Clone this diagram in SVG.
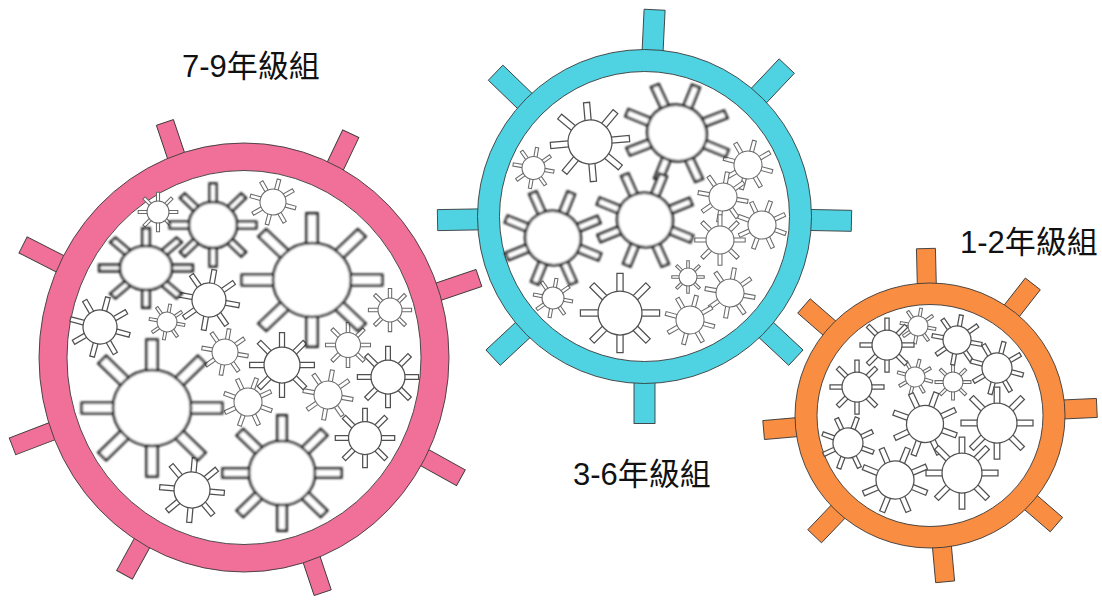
<svg xmlns="http://www.w3.org/2000/svg" xmlns:xlink="http://www.w3.org/1999/xlink" width="1102" height="603" viewBox="0 0 1102 603">
  <style>
    .lbl { font-family: "Liberation Sans", "Noto Sans CJK TC", sans-serif; font-size: 31px; fill: #111; }
    .edge { stroke: #3a3a3a; stroke-width: 0.9; }
    .pink { fill: #F1709A; }
    .cyan { fill: #4FD3E3; }
    .orange { fill: #F98D42; }
    .hole { fill: #fff; stroke: #3a3a3a; stroke-width: 0.9; }
    .vb { fill: #fff; stroke: #1c1c1c; stroke-width: 2.6; }
    .vm { fill: #fff; stroke: #505050; stroke-width: 1.25; }
    .vs { fill: #fff; stroke: #6a6a6a; stroke-width: 1.05; }
  </style>
  <defs>
    <filter id="soft" filterUnits="userSpaceOnUse" x="0" y="0" width="1102" height="603">
      <feGaussianBlur stdDeviation="0.9"/>
    </filter>
    <!-- unit virus: radius-1 body with eight spikes -->
    <g id="v">
      <rect x="0.85" y="-0.14" width="0.95" height="0.28" vector-effect="non-scaling-stroke"/>
      <rect x="0.85" y="-0.14" width="0.95" height="0.28" transform="rotate(45)" vector-effect="non-scaling-stroke"/>
      <rect x="0.85" y="-0.14" width="0.95" height="0.28" transform="rotate(90)" vector-effect="non-scaling-stroke"/>
      <rect x="0.85" y="-0.14" width="0.95" height="0.28" transform="rotate(135)" vector-effect="non-scaling-stroke"/>
      <rect x="0.85" y="-0.14" width="0.95" height="0.28" transform="rotate(180)" vector-effect="non-scaling-stroke"/>
      <rect x="0.85" y="-0.14" width="0.95" height="0.28" transform="rotate(225)" vector-effect="non-scaling-stroke"/>
      <rect x="0.85" y="-0.14" width="0.95" height="0.28" transform="rotate(270)" vector-effect="non-scaling-stroke"/>
      <rect x="0.85" y="-0.14" width="0.95" height="0.28" transform="rotate(315)" vector-effect="non-scaling-stroke"/>
      <circle r="1" vector-effect="non-scaling-stroke"/>
    </g>
  </defs>

  <rect width="1102" height="603" fill="#fff"/>

  <!-- grades 7-9 -->
  <g id="group-7-9">
    <g class="pink edge" transform="translate(244,357.5)">
      <rect x="180" y="-9" width="68" height="18" transform="rotate(-108.6)"/>
      <rect x="180" y="-9" width="68" height="18" transform="rotate(-64.5)"/>
      <rect x="180" y="-9" width="68" height="18" transform="rotate(-18.7)"/>
      <rect x="180" y="-9" width="68" height="18" transform="rotate(29)"/>
      <rect x="180" y="-9" width="68" height="18" transform="rotate(71.5)"/>
      <rect x="180" y="-9" width="68" height="18" transform="rotate(118.8)"/>
      <rect x="180" y="-9" width="68" height="18" transform="rotate(159)"/>
      <rect x="180" y="-9" width="68" height="18" transform="rotate(-153)"/>
      <ellipse rx="205" ry="214.5"/>
      <ellipse class="hole" rx="177" ry="187"/>
    </g>
    <g class="vs">
      <use xlink:href="#v" transform="translate(158,212) rotate(0) scale(11)"/>
      <use xlink:href="#v" transform="translate(273,202) rotate(15) scale(13)"/>
      <use xlink:href="#v" transform="translate(167,322) rotate(10) scale(10)"/>
      <use xlink:href="#v" transform="translate(390,310) rotate(0) scale(12)"/>
      <use xlink:href="#v" transform="translate(225,352) rotate(10) scale(13)"/>
      <use xlink:href="#v" transform="translate(348,345) rotate(0) scale(12.5)"/>
      <use xlink:href="#v" transform="translate(248,402) rotate(20) scale(14)"/>
      <use xlink:href="#v" transform="translate(328,395) rotate(10) scale(14)"/>
    </g>
    <g class="vm">
      <use xlink:href="#v" transform="translate(209,300) rotate(10) scale(17)"/>
      <use xlink:href="#v" transform="translate(100,327) rotate(15) scale(17)"/>
      <use xlink:href="#v" transform="translate(282,365) rotate(0) scale(18)"/>
      <use xlink:href="#v" transform="translate(388,377) rotate(0) scale(17)"/>
      <use xlink:href="#v" transform="translate(365,438) rotate(0) scale(16.5)"/>
      <use xlink:href="#v" transform="translate(192,490) rotate(5) scale(18)"/>
    </g>
    <g class="vb" filter="url(#soft)">
      <use xlink:href="#v" transform="translate(213,225) scale(24,23)"/>
      <use xlink:href="#v" transform="translate(146,268) scale(26,22)"/>
      <use xlink:href="#v" transform="translate(312,280) scale(39,37)"/>
      <use xlink:href="#v" transform="translate(152,408) scale(39,38)"/>
      <use xlink:href="#v" transform="translate(282,473) scale(33,32)"/>
    </g>
    <text class="lbl" x="182" y="77">7-9年級組</text>
  </g>

  <!-- grades 3-6 -->
  <g id="group-3-6">
    <g class="cyan edge" transform="translate(644.5,216.5)">
      <rect x="140" y="-10.5" width="67" height="21" transform="rotate(-87.2)"/>
      <rect x="140" y="-10.5" width="67" height="21" transform="rotate(-46.6)"/>
      <rect x="140" y="-10.5" width="67" height="21" transform="rotate(1.2)"/>
      <rect x="140" y="-10.5" width="67" height="21" transform="rotate(43)"/>
      <rect x="140" y="-10.5" width="67" height="21" transform="rotate(90)"/>
      <rect x="140" y="-10.5" width="67" height="21" transform="rotate(137)"/>
      <rect x="140" y="-10.5" width="67" height="21" transform="rotate(179)"/>
      <rect x="140" y="-10.5" width="67" height="21" transform="rotate(-136)"/>
      <circle r="167"/>
      <circle class="hole" r="145"/>
    </g>
    <g class="vs">
      <use xlink:href="#v" transform="translate(533.5,168) rotate(10) scale(11.5)"/>
      <use xlink:href="#v" transform="translate(748,165) rotate(15) scale(14)"/>
      <use xlink:href="#v" transform="translate(723,197) rotate(10) scale(14)"/>
      <use xlink:href="#v" transform="translate(762,225) rotate(20) scale(14)"/>
      <use xlink:href="#v" transform="translate(720,240) rotate(0) scale(14)"/>
      <use xlink:href="#v" transform="translate(688,277) rotate(0) scale(9)"/>
      <use xlink:href="#v" transform="translate(730,293) rotate(10) scale(14)"/>
      <use xlink:href="#v" transform="translate(553,298) rotate(10) scale(11)"/>
      <use xlink:href="#v" transform="translate(690,320) rotate(15) scale(14)"/>
    </g>
    <g class="vm">
      <use xlink:href="#v" transform="translate(590,142) rotate(-5) scale(22)"/>
      <use xlink:href="#v" transform="translate(620,313) rotate(0) scale(22)"/>
    </g>
    <g class="vb" filter="url(#soft)">
      <use xlink:href="#v" transform="translate(677,133) rotate(22) scale(30,28)"/>
      <use xlink:href="#v" transform="translate(553,238) rotate(22) scale(28,27)"/>
      <use xlink:href="#v" transform="translate(645,220) rotate(22) scale(28,27)"/>
    </g>
    <text class="lbl" x="573" y="485">3-6年級組</text>
  </g>

  <!-- grades 1-2 -->
  <g id="group-1-2">
    <g class="orange edge" transform="translate(930,415.5)">
      <rect x="110" y="-9.5" width="57" height="19" transform="rotate(-91.4)"/>
      <rect x="110" y="-9.5" width="57" height="19" transform="rotate(-52)"/>
      <rect x="110" y="-9.5" width="57" height="19" transform="rotate(-2.6)"/>
      <rect x="110" y="-9.5" width="57" height="19" transform="rotate(40.8)"/>
      <rect x="110" y="-9.5" width="57" height="19" transform="rotate(84.8)"/>
      <rect x="110" y="-9.5" width="57" height="19" transform="rotate(133.7)"/>
      <rect x="110" y="-9.5" width="57" height="19" transform="rotate(175)"/>
      <rect x="110" y="-9.5" width="57" height="19" transform="rotate(-139)"/>
      <ellipse rx="135" ry="132.5"/>
      <ellipse class="hole" rx="113" ry="111"/>
    </g>
    <g class="vs">
      <use xlink:href="#v" transform="translate(918,326) rotate(10) scale(10)"/>
      <use xlink:href="#v" transform="translate(915,377) rotate(15) scale(10)"/>
      <use xlink:href="#v" transform="translate(953,382) rotate(0) scale(10)"/>
    </g>
    <g class="vm">
      <use xlink:href="#v" transform="translate(887,345) rotate(0) scale(15)"/>
      <use xlink:href="#v" transform="translate(957,340) rotate(10) scale(14)"/>
      <use xlink:href="#v" transform="translate(997,368) rotate(15) scale(15)"/>
      <use xlink:href="#v" transform="translate(857,387) rotate(0) scale(15)"/>
      <use xlink:href="#v" transform="translate(925,424) rotate(20) scale(18.5)"/>
      <use xlink:href="#v" transform="translate(997,423) rotate(0) scale(20)"/>
      <use xlink:href="#v" transform="translate(848,443) rotate(20) scale(15)"/>
      <use xlink:href="#v" transform="translate(895,480) rotate(22) scale(19)"/>
      <use xlink:href="#v" transform="translate(962,473) rotate(0) scale(20)"/>
    </g>
    <text class="lbl" x="960" y="253">1-2年級組</text>
  </g>
</svg>
